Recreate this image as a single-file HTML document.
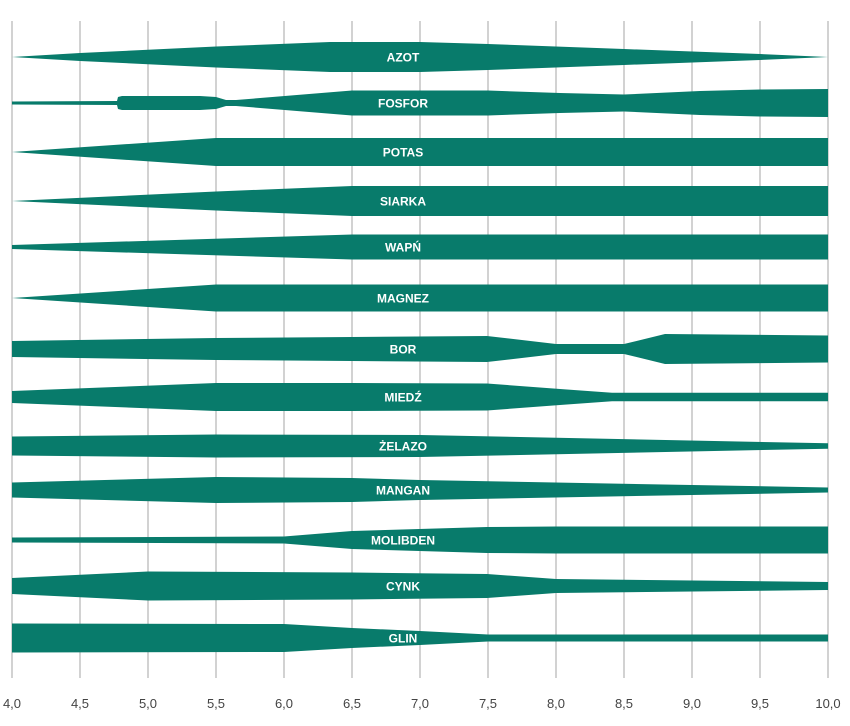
<!DOCTYPE html>
<html><head><meta charset="utf-8"><style>
html,body{margin:0;padding:0;background:#fff;}
svg{display:block;}
</style></head><body>
<svg id="s" width="850" height="726" xmlns="http://www.w3.org/2000/svg">
<g id="grid" stroke="#b4b4b4" stroke-width="1.2"></g>
<g id="bands" fill="#087b6b"></g>
<g id="labels" font-family="Liberation Sans, sans-serif" font-weight="bold" font-size="12" fill="#fff" text-anchor="middle"></g>
<g id="ticks" font-family="Liberation Sans, sans-serif" font-size="13" fill="#444" text-anchor="middle"></g>
</svg>
<script>
var NS="http://www.w3.org/2000/svg";
function X(v){return 12+(v-4)*136;}
var g=document.getElementById('grid'),t=document.getElementById('ticks');
for(var i=0;i<=12;i++){var v=4+i*0.5,x=X(v);
 var l=document.createElementNS(NS,'line');l.setAttribute('x1',x);l.setAttribute('x2',x);l.setAttribute('y1',21);l.setAttribute('y2',678);g.appendChild(l);
 var tx=document.createElementNS(NS,'text');tx.setAttribute('x',x);tx.setAttribute('y',708);tx.textContent=v.toFixed(1).replace('.',',');t.appendChild(tx);}
var bands=[
["AZOT",57,[[12,0],[80,4],[216,10.5],[330,15],[420,15],[488,13],[624,8],[760,3],[828,0]]],
["FOSFOR",103,[[12,1.5],[117,2],[118,6],[122,7],[200,7],[216,6],[226,3],[236,3],[352,12.5],[488,12.5],[560,10],[624,8.5],[700,12],[760,13.5],[828,14]]],
["POTAS",152,[[12,0],[216,14],[828,14]]],
["SIARKA",201,[[12,0],[216,9.5],[352,15],[828,15]]],
["WAPŃ",247,[[12,2],[352,12.5],[828,12.5]]],
["MAGNEZ",298,[[12,0],[216,13.5],[828,13.5]]],
["BOR",349,[[12,8],[216,11],[352,12],[487,13],[556,5],[624,5],[665,15],[828,13.5]]],
["MIEDŹ",397,[[12,6],[216,14],[352,14],[487,13.5],[560,8],[612,4.3],[828,4.3]]],
["ŻELAZO",446,[[12,9.5],[216,11.5],[420,11],[828,2.7]]],
["MANGAN",490,[[12,7.5],[216,13],[352,12],[420,10],[828,2.5]]],
["MOLIBDEN",540,[[12,2.5],[284,3.5],[352,9],[487,13],[556,13.5],[828,13.5]]],
["CYNK",586,[[12,8],[148,14.5],[352,13.5],[487,12],[556,7],[828,4]]],
["GLIN",638,[[12,14.5],[284,14],[352,10],[420,7],[488,3.5],[828,3.5]]]
];
var b=document.getElementById('bands'),lb=document.getElementById('labels');
bands.forEach(function(d){var c=d[1],p=d[2],s="M";
 p.forEach(function(q,i){s+=(i?" L":"")+q[0]+","+(c-q[1]);});
 for(var i=p.length-1;i>=0;i--)s+=" L"+p[i][0]+","+(c+p[i][1]);
 s+=" Z";var e=document.createElementNS(NS,'path');e.setAttribute('d',s);b.appendChild(e);
 var tx=document.createElementNS(NS,'text');tx.setAttribute('x',403);tx.setAttribute('y',c+4.5);tx.textContent=d[0];lb.appendChild(tx);});
</script>
</body></html>
